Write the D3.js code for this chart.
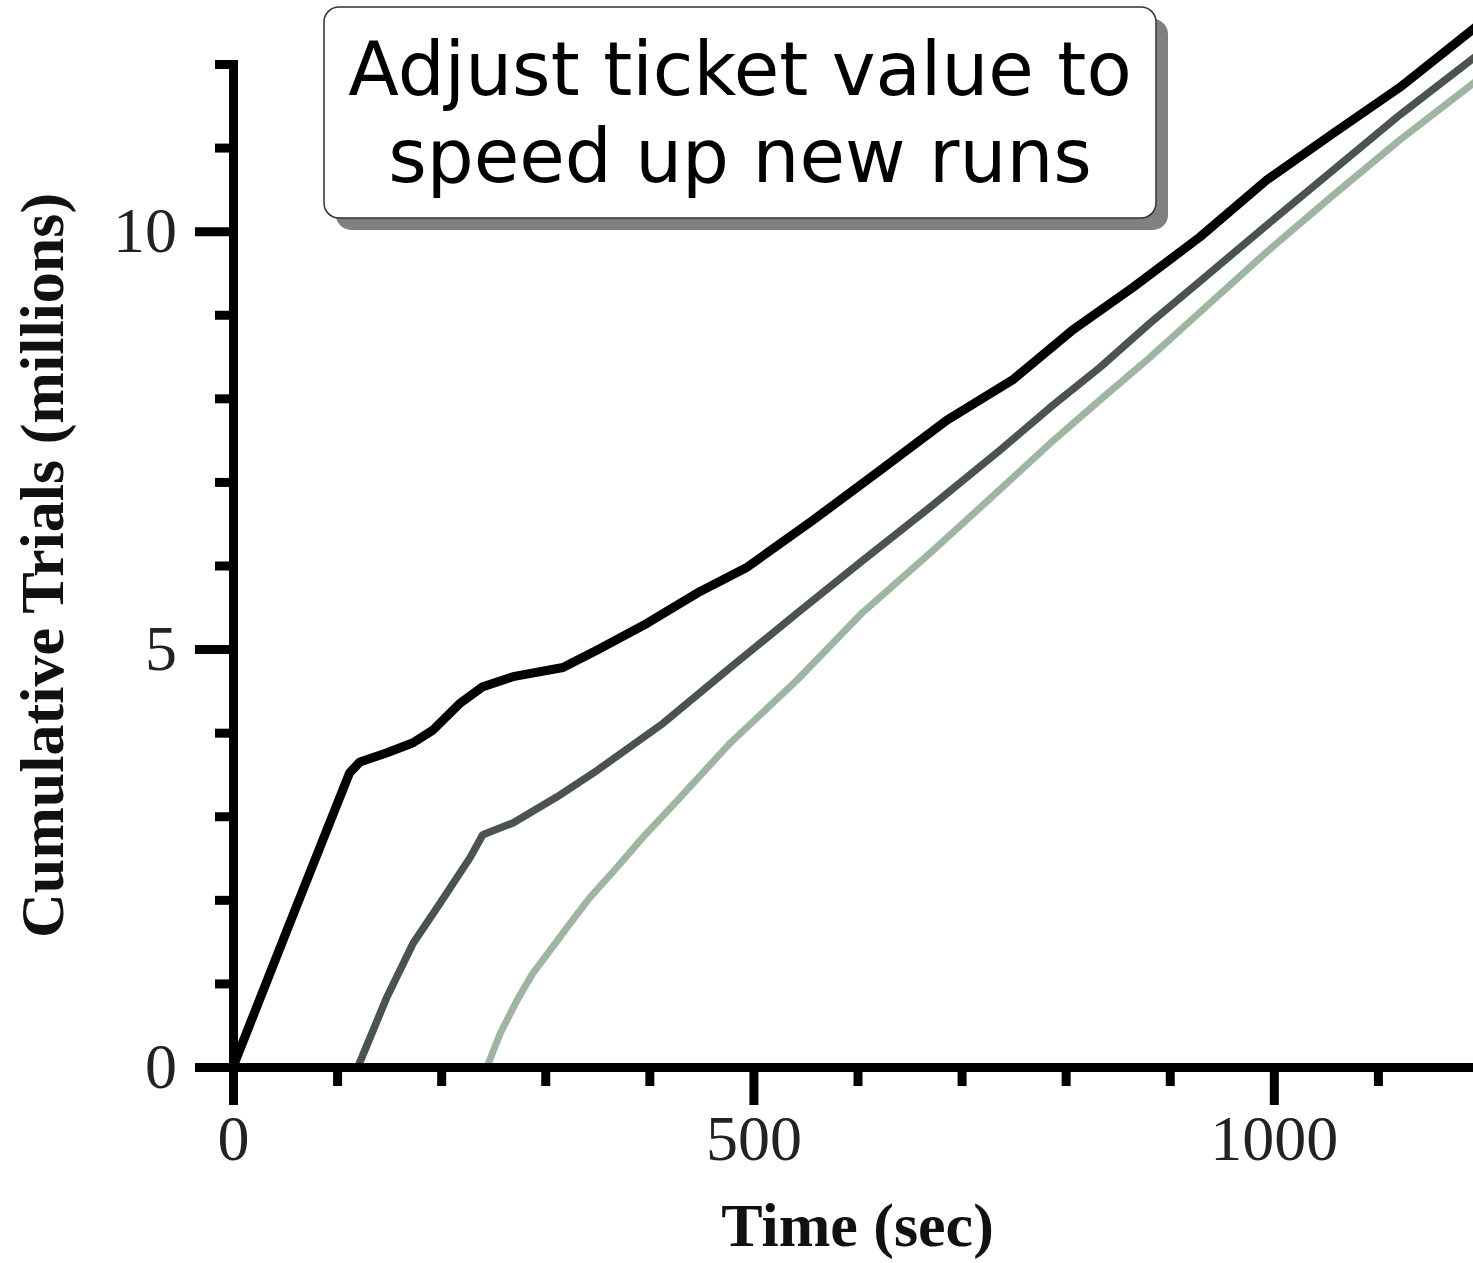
<!DOCTYPE html>
<html>
<head>
<meta charset="utf-8">
<script src="https://cdn.jsdelivr.net/npm/d3@7"></script>
<style>
  html, body { margin: 0; padding: 0; background: #fff; }
  svg { display: block; }
  .tick text { font-family: "Liberation Serif", "Times New Roman", serif; font-size: 64px; fill: #222; }
  .axis-title { font-family: "Liberation Serif", "Times New Roman", serif; font-size: 62px; font-weight: bold; fill: #111; }
  .note { font-family: "DejaVu Sans", sans-serif; font-size: 74px; fill: #000; }
</style>
</head>
<body>
<div id="chart"></div>
<script>
// ticks
var xTicks = [0, 100, 200, 300, 400, 500, 600, 700, 800, 900, 1000, 1100];
var yTicks = [0, 1, 2, 3, 4, 5, 6, 7, 8, 9, 10, 11, 12];
var xLabelled = [0, 500, 1000];
var yLabelled = [0, 5, 10];

// run started at t=0
var run1Time = [0, 52, 90, 112, 122, 148, 173, 192, 218, 240, 269, 317, 350, 398, 446, 494, 557, 622, 686, 749, 807, 865, 929, 993, 1057, 1121, 1200];
var run1Trials = [0, 1.64, 2.83, 3.52, 3.65, 3.76, 3.88, 4.03, 4.35, 4.55, 4.67, 4.78, 4.99, 5.31, 5.67, 5.98, 6.54, 7.14, 7.74, 8.22, 8.82, 9.33, 9.93, 10.61, 11.17, 11.72, 12.5];

// run started at ~120 s
var run2Time = [120, 148, 173, 199, 228, 240, 269, 311, 350, 413, 478, 542, 605, 670, 737, 785, 833, 881, 929, 993, 1057, 1121, 1200];
var run2Trials = [0, 0.84, 1.48, 1.96, 2.51, 2.78, 2.92, 3.23, 3.55, 4.11, 4.78, 5.43, 6.06, 6.70, 7.38, 7.89, 8.37, 8.90, 9.40, 10.07, 10.73, 11.39, 12.15];

// run started at ~244 s
var run3Time = [244, 257, 273, 288, 305, 321, 343, 369, 394, 427, 478, 542, 605, 670, 737, 785, 833, 881, 929, 993, 1057, 1121, 1200];
var run3Trials = [0, 0.41, 0.80, 1.12, 1.40, 1.67, 2.03, 2.39, 2.75, 3.19, 3.88, 4.63, 5.44, 6.15, 6.91, 7.46, 7.98, 8.49, 9.03, 9.75, 10.43, 11.09, 11.85];

var noteLines = ["Adjust ticket value to", "speed up new runs"];

var width = 1473, height = 1263;
var margin = { top: 64, left: 233 };

var svg = d3.select("#chart").append("svg").attr("width", width).attr("height", height);

var x = d3.scaleLinear().domain([0, 1200]).range([margin.left, margin.left + 1249]);
var y = d3.scaleLinear().domain([0, 12]).range([1067, margin.top]);

// series, drawn back to front
var series = [
  { time: run3Time, trials: run3Trials, color: "#a0b5a1", w: 7 },
  { time: run2Time, trials: run2Trials, color: "#4b534d", w: 7.5 },
  { time: run1Time, trials: run1Trials, color: "#000000", w: 9 }
];

var line = d3.line()
  .x(function (d) { return x(d[0]); })
  .y(function (d) { return y(d[1]); });

series.forEach(function (s) {
  var pts = s.time.map(function (t, i) { return [t, s.trials[i]]; });
  svg.append("path")
    .datum(pts)
    .attr("d", line)
    .attr("fill", "none")
    .attr("stroke", s.color)
    .attr("stroke-width", s.w)
    .attr("stroke-linejoin", "round");
});

// x axis
var xAxis = svg.append("g")
  .attr("class", "xAxis")
  .attr("transform", "translate(0," + y(0) + ")")
  .call(d3.axisBottom(x).tickValues(xTicks).tickSizeOuter(0)
    .tickFormat(function (d) { return xLabelled.indexOf(d) >= 0 ? d : ""; }));
xAxis.select(".domain").attr("stroke", "#000").attr("stroke-width", 9);
xAxis.selectAll(".tick line")
  .attr("stroke", "#000").attr("stroke-width", 9)
  .attr("y2", function (d) { return xLabelled.indexOf(d) >= 0 ? 38 : 19; });
xAxis.selectAll(".tick text").attr("y", 93).attr("dy", 0);

// y axis
var yAxis = svg.append("g")
  .attr("class", "yAxis")
  .attr("transform", "translate(" + x(0) + ",0)")
  .call(d3.axisLeft(y).tickValues(yTicks).tickSizeOuter(0)
    .tickFormat(function (d) { return yLabelled.indexOf(d) >= 0 ? d : ""; }));
yAxis.select(".domain").attr("stroke", "#000").attr("stroke-width", 9).attr("stroke-linecap", "square");
yAxis.selectAll(".tick line")
  .attr("stroke", "#000").attr("stroke-width", 9)
  .attr("x2", function (d) { return yLabelled.indexOf(d) >= 0 ? -38 : -18; });
yAxis.selectAll(".tick text").attr("x", -56).attr("dy", "0.32em");

// axis titles
svg.append("text")
  .attr("class", "axis-title")
  .attr("x", (x.range()[0] + x.range()[1]) / 2)
  .attr("y", 1246)
  .attr("text-anchor", "middle")
  .text("Time (sec)");

svg.append("text")
  .attr("class", "axis-title")
  .attr("transform", "translate(63," + (y(0) + y(12)) / 2 + ") rotate(-90)")
  .attr("text-anchor", "middle")
  .text("Cumulative Trials (millions)");

// annotation box
var note = svg.append("g");
note.append("rect")
  .attr("x", 336).attr("y", 19).attr("width", 832).attr("height", 211)
  .attr("rx", 15).attr("fill", "#808080");
note.append("rect")
  .attr("x", 324).attr("y", 7).attr("width", 832).attr("height", 211)
  .attr("rx", 15).attr("fill", "#fff").attr("stroke", "#333").attr("stroke-width", 1.5);
note.selectAll("text.note")
  .data(noteLines)
  .enter().append("text")
  .attr("class", "note")
  .attr("x", 740)
  .attr("y", function (d, i) { return 95 + i * 87; })
  .attr("text-anchor", "middle")
  .text(function (d) { return d; });
</script>
</body>
</html>
